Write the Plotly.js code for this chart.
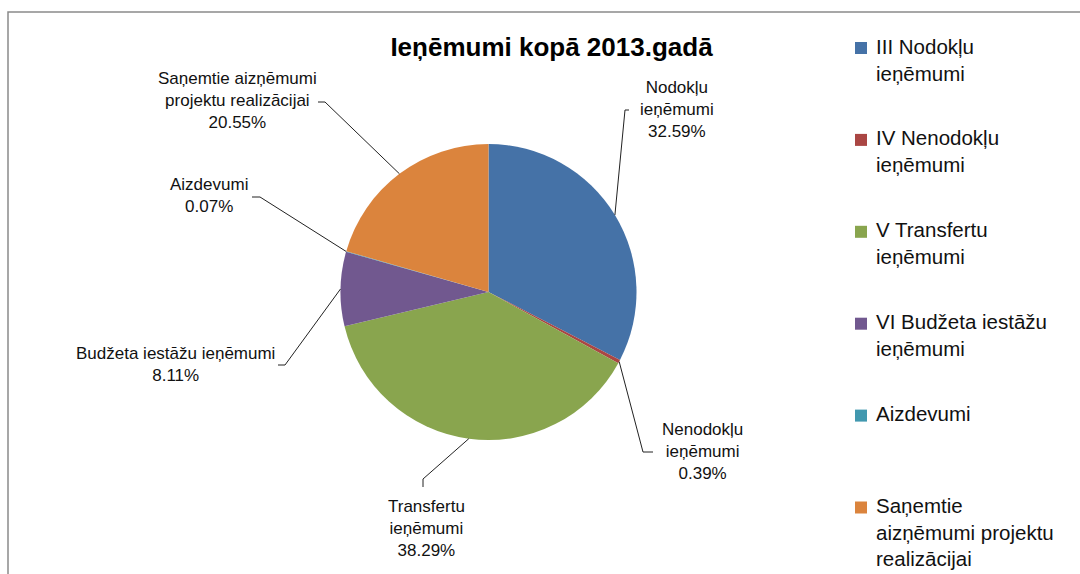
<!DOCTYPE html>
<html><head><meta charset="utf-8">
<script src="https://cdn.plot.ly/plotly-3.0.1.min.js"></script>
<style>html,body{margin:0;padding:0;background:#fff}</style>
</head><body><div id="chart" style="width:1080px;height:574px"></div>
<script>
// ---- data ----
const categories = ["III Nodokļu<br>ieņēmumi", "IV Nenodokļu<br>ieņēmumi", "V Transfertu<br>ieņēmumi", "VI Budžeta iestāžu<br>ieņēmumi", "Aizdevumi", "Saņemtie<br>aizņēmumi projektu<br>realizācijai"];
const sliceLabels = ["Nodokļu<br>ieņēmumi", "Nenodokļu<br>ieņēmumi", "Transfertu<br>ieņēmumi", "Budžeta iestāžu ieņēmumi", "Aizdevumi", "Saņemtie aizņēmumi<br>projektu realizācijai"];
const percentages = [32.59, 0.39, 38.29, 8.11, 0.07, 20.55];
const colors = ["#4572A7", "#AA4643", "#89A54E", "#71588F", "#4198AF", "#DB843D"];
const titleText = "Ieņēmumi kopā 2013.gadā";

// ---- layout geometry (pixels) ----
const W = 1080, H = 574, CX = 488.5, CY = 292, R = 148;
const labelCenters = [[677,110],[702,451],[426,528],[175,364],[209,195],[237,100]];
const leaderElbows = [[625,110],[643,452],[423,479],[285,365],[260,197],[325,102]];
const leaderEnds   = [[629,110],[653,452],[423,487],[278,365],[252,197],[318,102]];
const legendTextX = 873.5, legendSymX = 861, legendFirstY = 46.5, legendStep = 91.9;
const FONT = "Liberation Sans, Arial, sans-serif";

const px = x => x / W, py = y => 1 - y / H;

const total = percentages.reduce((a, b) => a + b, 0);
let cum = 0;
const shapes = [];
const annotations = [];

// chart border (top + left visible)
shapes.push({type: 'path', xref: 'paper', yref: 'paper',
  path: `M ${px(8)},${py(600)} L ${px(8)},${py(12)} L ${px(1100)},${py(12)}`,
  line: {color: '#8a8a8a', width: 1.5}});

percentages.forEach((v, i) => {
  const mid = (cum + v / 2) / total;
  cum += v;
  const th = 2 * Math.PI * mid;
  const sx = CX + R * Math.sin(th), sy = CY - R * Math.cos(th);
  const e = leaderElbows[i], s = leaderEnds[i];
  shapes.push({type: 'path', xref: 'paper', yref: 'paper',
    path: `M ${px(sx)},${py(sy)} L ${px(e[0])},${py(e[1])} L ${px(s[0])},${py(s[1])}`,
    line: {color: '#222', width: 1}});
  annotations.push({xref: 'paper', yref: 'paper', x: px(labelCenters[i][0]), y: py(labelCenters[i][1]),
    xanchor: 'center', yanchor: 'middle', align: 'center', showarrow: false,
    text: sliceLabels[i] + '<br>' + v.toFixed(2) + '%',
    font: {family: FONT, size: 17, color: '#111'}});
  // legend
  const ly = legendFirstY + legendStep * i;
  shapes.push({type: 'rect', xref: 'paper', yref: 'paper',
    x0: px(legendSymX - 6), x1: px(legendSymX + 6), y0: py(ly + 1.5 - 6), y1: py(ly + 1.5 + 6),
    fillcolor: colors[i], line: {width: 0}});
  annotations.push({xref: 'paper', yref: 'paper', x: px(legendTextX), y: py(ly - 14),
    xanchor: 'left', yanchor: 'top', align: 'left', showarrow: false,
    text: categories[i], font: {family: FONT, size: 20.5, color: '#111'}});
});

const trace = {
  type: 'pie', labels: categories, values: percentages, sort: false, direction: 'clockwise',
  rotation: 0, marker: {colors: colors, line: {width: 0}}, textinfo: 'none', hoverinfo: 'label+percent',
  showlegend: false,
  domain: {x: [px(CX - R), px(CX + R)], y: [py(CY + R), py(CY - R)]}
};

const layout = {
  width: W, height: H, margin: {l: 0, r: 0, t: 0, b: 0},
  paper_bgcolor: '#fff', plot_bgcolor: '#fff', showlegend: false,
  title: {text: '<b>' + titleText + '</b>', x: px(551.5), xanchor: 'center', xref: 'container',
    y: py(47), yanchor: 'middle', yref: 'container',
    font: {family: FONT, size: 26, color: '#000'}},
  shapes: shapes, annotations: annotations
};

Plotly.newPlot('chart', [trace], layout, {displayModeBar: false, staticPlot: true});
</script></body></html>
